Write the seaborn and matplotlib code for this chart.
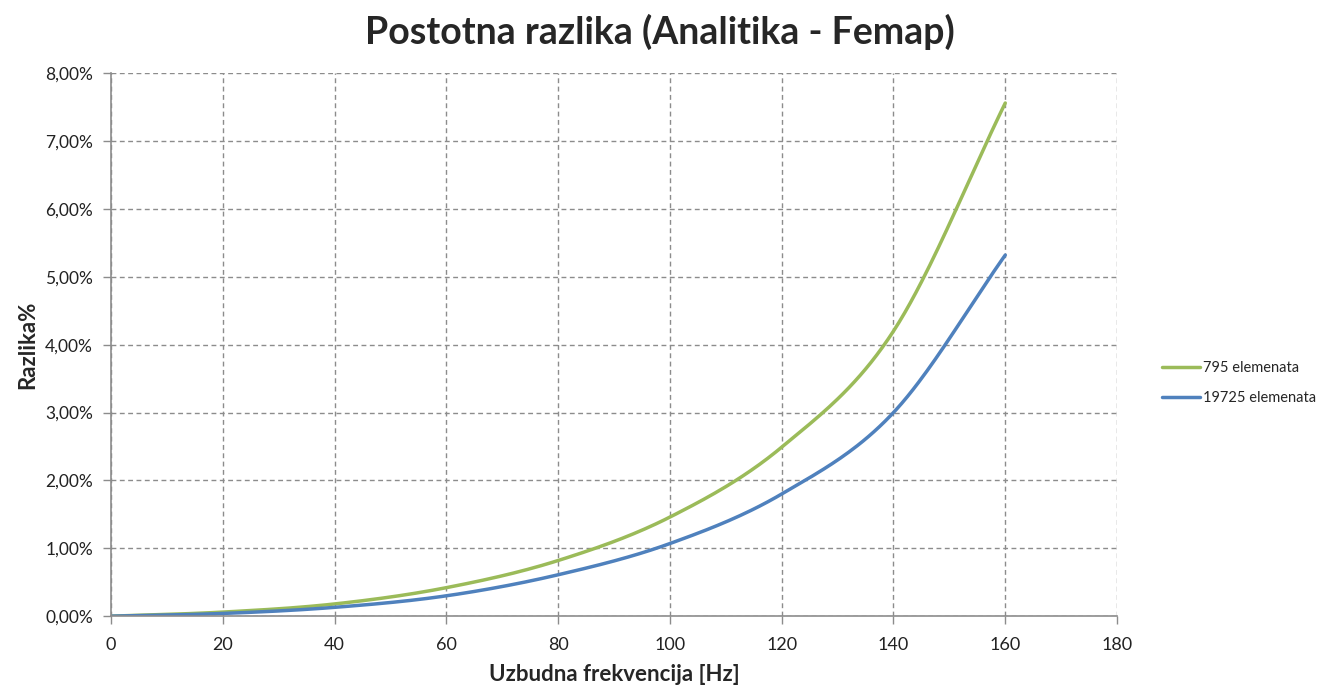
import numpy as np
import pandas as pd
import matplotlib
matplotlib.use("Agg")
import matplotlib.pyplot as plt
from matplotlib.lines import Line2D
from matplotlib.ticker import FuncFormatter, MultipleLocator
import seaborn as sns

# Excitation frequencies [Hz] and percentage difference (analytic vs. Femap)
freq = [0, 20, 40, 60, 80, 100, 120, 140, 160]
diff_795 = [0.00, 0.06, 0.18, 0.42, 0.82, 1.46, 2.49, 4.20, 7.56]
diff_19725 = [0.00, 0.04, 0.13, 0.30, 0.61, 1.07, 1.80, 3.00, 5.32]
series_names = ["795 elemenata", "19725 elemenata"]
colors = ["#9BBB59", "#4F81BD"]

title = "Postotna razlika (Analitika - Femap)"
xlabel = "Uzbudna frekvencija [Hz]"
ylabel = "Razlika%"


def smooth(x, y, n=40):
    """Catmull-Rom path through the points (spreadsheet-style smoothed line)."""
    x = np.asarray(x, float)
    y = np.asarray(y, float)
    px = np.concatenate([[2 * x[0] - x[1]], x, [2 * x[-1] - x[-2]]])
    py = np.concatenate([[2 * y[0] - y[1]], y, [2 * y[-1] - y[-2]]])
    xs, ys = [], []
    t = np.linspace(0, 1, n, endpoint=False)
    for i in range(1, len(px) - 2):
        for arr, out in ((px, xs), (py, ys)):
            p0, p1, p2, p3 = arr[i - 1], arr[i], arr[i + 1], arr[i + 2]
            out.extend(0.5 * ((2 * p1) + (-p0 + p2) * t
                              + (2 * p0 - 5 * p1 + 4 * p2 - p3) * t ** 2
                              + (-p0 + 3 * p1 - 3 * p2 + p3) * t ** 3))
    xs.append(x[-1])
    ys.append(y[-1])
    return np.array(xs), np.array(ys)


frames = []
for name, vals in zip(series_names, [diff_795, diff_19725]):
    sx, sy = smooth(freq, vals)
    frames.append(pd.DataFrame({"freq": sx, "diff": np.maximum(sy, 0), "series": name}))
df = pd.concat(frames, ignore_index=True)

sns.set_theme(style="white")
plt.rcParams["font.family"] = ["Lato", "DejaVu Sans"]

fig = plt.figure(figsize=(13.33, 6.9), dpi=100)
ax = fig.add_axes([0.0833, 0.107, 0.7547, 0.787])

sns.lineplot(data=df, x="freq", y="diff", hue="series", hue_order=series_names,
             palette=colors, sort=False, estimator=None, linewidth=2.5, ax=ax,
             legend=False)

ax.set_xlim(0, 180)
ax.set_ylim(0, 8)
ax.xaxis.set_major_locator(MultipleLocator(20))
ax.yaxis.set_major_locator(MultipleLocator(1))
ax.yaxis.set_major_formatter(FuncFormatter(lambda v, p: f"{v:.2f}%".replace(".", ",")))

ax.grid(True, color="#8c8c8c", linestyle=(0, (3.5, 2.5)), linewidth=1.0)
ax.set_axisbelow(True)
for side in ("top", "right"):
    ax.spines[side].set_visible(False)
for side in ("left", "bottom"):
    ax.spines[side].set_color("#8c8c8c")
    ax.spines[side].set_linewidth(1.2)
ax.tick_params(axis="both", which="major", direction="out", length=6, width=1,
               color="#8c8c8c", labelsize=12.5, labelcolor="#222222",
               left=True, bottom=True)
ax.tick_params(axis="y", pad=7)
ax.tick_params(axis="x", pad=9, labelsize=13)

ax.set_xlabel(xlabel, fontsize=16, fontweight="bold", labelpad=8)
ax.set_ylabel(ylabel, fontsize=16, fontweight="bold", labelpad=5)
fig.suptitle(title, fontsize=27, fontweight="bold", y=0.98, x=0.495)

handles = [Line2D([], [], color=c, linewidth=2.5) for c in colors]
fig.legend(handles, series_names, loc="center left", bbox_to_anchor=(0.862, 0.445),
           frameon=False, fontsize=10.5, handlelength=2.6, handletextpad=0.2,
           labelspacing=1.1)

fig.savefig("out.png", dpi=100, facecolor="white")
